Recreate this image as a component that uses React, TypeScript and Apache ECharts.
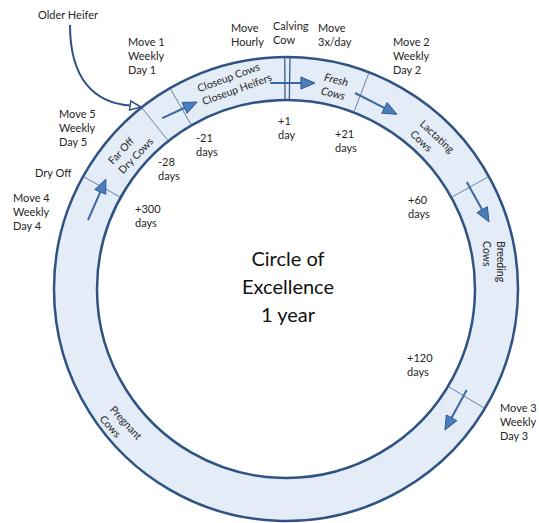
import React, { useEffect, useRef } from "react";
import * as echarts from "echarts";

// ---- Diagram data ----
// angles are degrees clockwise from 12 o'clock
const stageDividerAngles = [-61, -38.5, -30, 21, 61, 121];
const calvingDividerAngles = [-0.3, 1.0];

const stageNames = [
  "Far Off\nDry Cows",
  "Closeup Cows\nCloseup Heifers",
  "Fresh\nCows",
  "Lactating\nCows",
  "Breeding\nCows",
  "Pregnant\nCows",
];
// [x, y, rotation deg clockwise]
const stageLabelLayout = [
  [115, 167, -46.5],
  [200, 95, -20],
  [323, 83, 14],
  [417, 127, 43],
  [494, 241, 90],
  [107, 412, 47.6],
];

// flow arrows inside the ring: [startAngle, startR, endAngle, endR]
const flowArrows = [
  [-70.8, 209.7, -58.6, 211],
  [-35.9, 211, -25.4, 207],
  [-4.4, 206.6, 8.0, 208],
  [19.4, 207.8, 32.4, 207],
  [59.4, 210, 71.7, 213.8],
  [119.2, 207, 131.6, 212.5],
];

const dayLabels = ["-28\ndays", "-21\ndays", "+1\nday", "+21\ndays", "+60\ndays", "+120\ndays", "+300\ndays"];
const dayLabelLayout = [
  [158, 161],
  [196, 137],
  [278, 120],
  [335, 133],
  [408, 199],
  [407, 357],
  [135, 208],
];

const moveLabels = [
  "Older Heifer",
  "Move 1\nWeekly\nDay 1",
  "Move\nHourly",
  "Calving\nCow",
  "Move\n3x/day",
  "Move 2\nWeekly\nDay 2",
  "Move 5\nWeekly\nDay 5",
  "Dry Off",
  "Move 4\nWeekly\nDay 4",
  "Move 3\nWeekly\nDay 3",
];
const moveLabelLayout = [
  [38, 14],
  [128, 41],
  [231, 27],
  [273, 25],
  [318, 27],
  [393, 41],
  [59, 113],
  [35, 172],
  [13, 197],
  [500, 407],
];

const centerTitle = "Circle of\nExcellence\n1 year";

// ---- layout constants ----
const CX = 286;
const CY = 289;
const R_OUT = 232;
const R_IN = 189;
const FONT = "Lato, 'Noto Sans', sans-serif";
const TEXT_COLOR = "#262626";
const DARK = "#2f5383";

function polar(deg: number, r: number): [number, number] {
  const a = (deg * Math.PI) / 180;
  return [CX + r * Math.sin(a), CY - r * Math.cos(a)];
}

function arrowElements(p1: number[], p2: number[], headLen: number, halfW: number, open: boolean) {
  const dx = p2[0] - p1[0];
  const dy = p2[1] - p1[1];
  const len = Math.hypot(dx, dy);
  const ux = dx / len;
  const uy = dy / len;
  const nx = -uy;
  const ny = ux;
  const bx = p2[0] - ux * headLen;
  const by = p2[1] - uy * headLen;
  return [
    {
      type: "line",
      shape: { x1: p1[0], y1: p1[1], x2: bx + ux * 2, y2: by + uy * 2 },
      style: { stroke: "#3c68a0", lineWidth: 2 },
    },
    {
      type: "polygon",
      shape: {
        points: [
          [p2[0], p2[1]],
          [bx + nx * halfW, by + ny * halfW],
          [bx - nx * halfW, by - ny * halfW],
        ],
      },
      style: open
        ? { fill: "#ffffff", stroke: DARK, lineWidth: 1.5 }
        : { fill: "#4a7dbd", stroke: "#2f5a8f", lineWidth: 1 },
    },
  ];
}

export default function App() {
  const ref = useRef<HTMLDivElement>(null);
  useEffect(() => {
    document.body.style.margin = "0";
    if (!ref.current) return;
    const chart = echarts.init(ref.current, undefined, { renderer: "svg" });
    const elements: any[] = [];

    elements.push({
      type: "ring",
      shape: { cx: CX, cy: CY, r: R_OUT, r0: R_IN },
      style: { fill: "#e3ecf7", stroke: DARK, lineWidth: 2.5 },
    });

    stageDividerAngles.forEach((a) => {
      const p1 = polar(a, R_IN + 1);
      const p2 = polar(a, R_OUT - 1);
      elements.push({
        type: "line",
        shape: { x1: p1[0], y1: p1[1], x2: p2[0], y2: p2[1] },
        style: { stroke: "#6783a8", lineWidth: 1 },
      });
    });
    calvingDividerAngles.forEach((a) => {
      const p1 = polar(a, R_IN + 1);
      const p2 = polar(a, R_OUT - 1);
      elements.push({
        type: "line",
        shape: { x1: p1[0], y1: p1[1], x2: p2[0], y2: p2[1] },
        style: { stroke: "#3d6090", lineWidth: 1.3 },
      });
    });

    flowArrows.forEach((f) => {
      const p1 = polar(f[0], f[1]);
      const p2 = polar(f[2], f[3]);
      elements.push(...arrowElements(p1, p2, 14, 6, false));
    });

    // Older heifer entry curve
    elements.push({
      type: "bezierCurve",
      shape: { x1: 70, y1: 25, cpx1: 70, cpy1: 80, cpx2: 95, cpy2: 103, x2: 130, y2: 105.5 },
      style: { stroke: DARK, lineWidth: 2, fill: null },
    });
    elements.push(...arrowElements([129, 105.3], [141, 107], 11, 4.5, true).slice(1));

    stageNames.forEach((t, i) => {
      const [x, y, rot] = stageLabelLayout[i];
      elements.push({
        type: "text",
        x,
        y,
        rotation: (-rot * Math.PI) / 180,
        style: {
          text: t,
          fill: TEXT_COLOR,
          fontFamily: FONT,
          fontSize: i === 2 ? 11 : 10.5,
          fontStyle: i === 2 ? "italic" : "normal",
          align: "left",
          verticalAlign: "middle",
          lineHeight: 14,
        },
      });
    });

    const plain = (t: string, x: number, firstCenterY: number) => ({
      type: "text",
      x,
      y: firstCenterY - 7,
      style: {
        text: t,
        fill: TEXT_COLOR,
        fontFamily: FONT,
        fontSize: 11,
        align: "left",
        verticalAlign: "top",
        lineHeight: 14,
      },
    });
    dayLabels.forEach((t, i) => elements.push(plain(t, dayLabelLayout[i][0], dayLabelLayout[i][1])));
    moveLabels.forEach((t, i) => elements.push(plain(t, moveLabelLayout[i][0], moveLabelLayout[i][1])));

    elements.push({
      type: "text",
      x: 288,
      y: 286,
      style: {
        text: centerTitle,
        fill: "#111111",
        fontFamily: FONT,
        fontSize: 20,
        align: "center",
        verticalAlign: "middle",
        lineHeight: 28,
      },
    });

    chart.setOption({
      animation: false,
      backgroundColor: "#ffffff",
      graphic: { elements },
    });
    return () => chart.dispose();
  }, []);
  return <div ref={ref} style={{ width: 539, height: 523 }} />;
}
